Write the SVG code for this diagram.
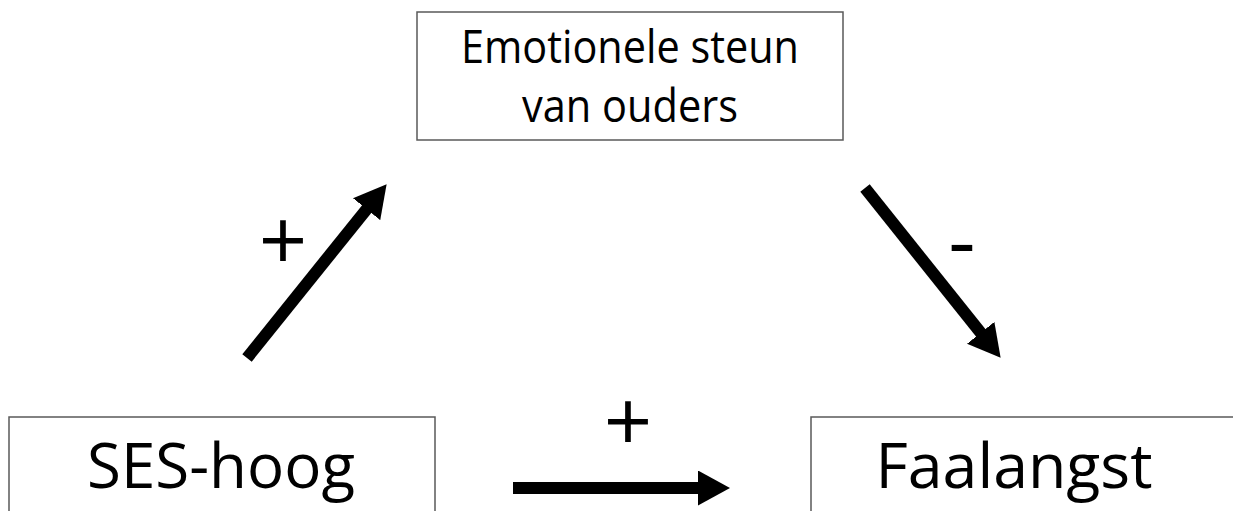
<svg xmlns="http://www.w3.org/2000/svg" width="1233" height="511" viewBox="0 0 1233 511">
  <style>
    .box { fill: #ffffff; stroke: #595959; stroke-width: 1.5; }
    .lbl { font-family: "Open Sans", "Liberation Sans", sans-serif; fill: #000000; text-anchor: middle; }
    .sign { font-family: "Open Sans", "Liberation Sans", sans-serif; fill: #000000; text-anchor: middle; font-size: 85px; }
    .arrow { stroke: #000000; stroke-width: 12; fill: none; marker-end: url(#head); }
  </style>
  <defs>
    <marker id="head" markerUnits="userSpaceOnUse" markerWidth="33" markerHeight="36" refX="1" refY="17.5" orient="auto" viewBox="0 0 33 36">
      <path d="M0,0 L32,17.5 L0,35 z" fill="#000000"/>
    </marker>
  </defs>
  <rect width="1233" height="511" fill="#ffffff"/>
  <g id="node-emotionele-steun">
    <rect class="box" x="417" y="12" width="426" height="128"/>
    <text class="lbl" x="630" y="63" font-size="45" textLength="338" lengthAdjust="spacingAndGlyphs">Emotionele steun</text>
    <text class="lbl" x="630" y="122" font-size="45" textLength="216" lengthAdjust="spacingAndGlyphs">van ouders</text>
  </g>
  <g id="node-ses-hoog">
    <rect class="box" x="9" y="417" width="426" height="110"/>
    <text class="lbl" x="221" y="488" font-size="63" textLength="268" lengthAdjust="spacingAndGlyphs">SES-hoog</text>
  </g>
  <g id="node-faalangst">
    <rect class="box" x="811" y="417" width="430" height="110"/>
    <text class="lbl" x="1014" y="488" font-size="63" textLength="277" lengthAdjust="spacingAndGlyphs">Faalangst</text>
  </g>
  <g id="connectors">
    <line class="arrow" x1="247" y1="358" x2="367.2" y2="208.4"/>
    <line class="arrow" x1="865" y1="188" x2="981.3" y2="333.6"/>
    <line class="arrow" x1="513" y1="488" x2="699" y2="488"/>
    <text class="sign" x="283" y="270">+</text>
    <text class="sign" x="962" y="271">-</text>
    <text class="sign" x="628" y="451">+</text>
  </g>
</svg>
